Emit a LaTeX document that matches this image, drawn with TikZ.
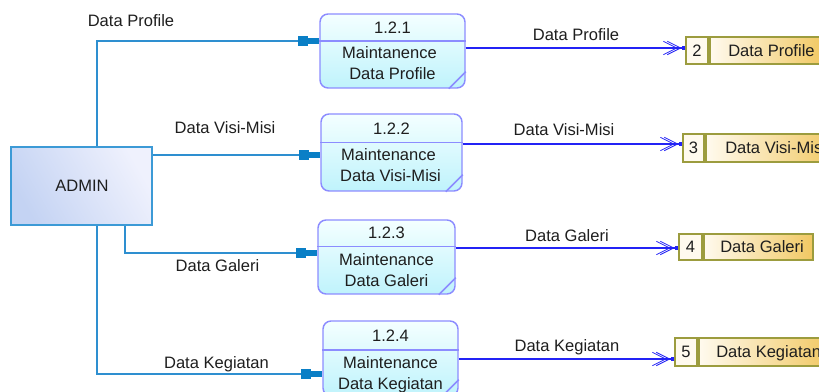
\documentclass[tikz,border=0pt]{standalone}
\usepackage{fontspec}
\setmainfont{Liberation Sans}
\usetikzlibrary{arrows.meta,calc}
\definecolor{inflow}{HTML}{2E8FD0}
\definecolor{inhead}{HTML}{0A7FC6}
\definecolor{outflow}{HTML}{2323F5}
\definecolor{procborder}{HTML}{8C8CFF}
\definecolor{proctop}{HTML}{F4FFFF}
\definecolor{procbot}{HTML}{BFF3FC}
\definecolor{admborder}{HTML}{3C9AD6}
\definecolor{admA}{HTML}{C4D3F3}
\definecolor{admB}{HTML}{EFF1FD}
\definecolor{stborder}{HTML}{9C9C3E}
\definecolor{stA}{HTML}{FFFAEE}
\definecolor{stB}{HTML}{F1C862}
\definecolor{txtc}{HTML}{1E1E1E}
\begin{document}
\begin{tikzpicture}[x=0.75pt,y=-0.75pt,
  every node/.style={font=\fontsize{12.4pt}{15pt}\selectfont, text=txtc},
  lbl/.style={inner sep=0pt, text height=8.9pt, text depth=0pt},
  adminbox/.style={draw=admborder, line width=1.6pt, inner sep=0pt,
    left color=admA, right color=admB, shading angle=120},
  procbox/.style={draw=procborder, line width=1.1pt, rounded corners=6pt, inner sep=0pt,
    top color=proctop, bottom color=procbot},
  procline/.style={draw=procborder, line width=1.1pt},
  stcell/.style={draw=stborder, line width=1.5pt, fill=stA, inner sep=0pt},
  stname/.style={draw=stborder, line width=1.5pt, inner sep=0pt, left color=stA, right color=stB},
  inf/.style={draw=inflow, line width=1.4pt, rounded corners=0pt,
    -{Rectangle[length=7.5pt,width=7.5pt,fill=inhead,color=inhead] Rectangle[length=8.25pt,width=3.9pt,fill=inhead,color=inhead]}},
  outf/.style={draw=outflow, line width=1.3pt,
    -{Straight Barb[length=10pt,width=10pt,line width=0.6pt,sep=-8pt] Straight Barb[length=10pt,width=10pt,line width=0.6pt] Square[length=2.6pt,width=3pt]}}
]
\useasboundingbox (0,0) rectangle (819,392);

% ADMIN
\node[adminbox, minimum width=105.75pt, minimum height=58.5pt] (admin) at (81.5,186) {};
\node[lbl] (admintxt) at (82,186) {ADMIN};

% processes
\node[procbox, minimum width=108.75pt, minimum height=55.5pt] (p1) at (392.5,51) {};
\node[procbox, minimum width=105.75pt, minimum height=57.75pt] (p2) at (391.5,152.5) {};
\node[procbox, minimum width=102.75pt, minimum height=55.5pt] (p3) at (386.5,257) {};
\node[procbox, minimum width=101.25pt, minimum height=56.25pt] (p4) at (390.5,358.5) {};

\coordinate (d1) at (0,41);
\coordinate (d2) at (0,142.5);
\coordinate (d3) at (0,246.5);
\coordinate (d4) at (0,350);
\foreach \p/\d in {p1/d1,p2/d2,p3/d3,p4/d4}{
  \draw[procline] (\p.west |- \d) -- (\p.east |- \d);
  \draw[procline] ($(\p.south east)+(-17,0)$) -- ($(\p.south east)+(0,-17)$);
}

\node[lbl] (p1n) at (392.5,27.5) {1.2.1};
\node[lbl] (p1a) at (389.5,53) {Maintanence};
\node[lbl] (p1b) at (392.5,74) {Data Profile};
\node[lbl] (p2n) at (391.5,128.5) {1.2.2};
\node[lbl] (p2a) at (388.5,155) {Maintenance};
\node[lbl] (p2b) at (390.5,176) {Data Visi-Misi};
\node[lbl] (p3n) at (386.5,233) {1.2.3};
\node[lbl] (p3a) at (386.5,260) {Maintenance};
\node[lbl] (p3b) at (386.5,281) {Data Galeri};
\node[lbl] (p4n) at (390.5,336) {1.2.4};
\node[lbl] (p4a) at (390.5,363) {Maintenance};
\node[lbl] (p4b) at (390.5,384) {Data Kegiatan};

% data stores
\node[stcell, minimum width=16.5pt, minimum height=20.25pt] (s2c) at (697,50.5) {};
\node[stname, minimum width=85.5pt, minimum height=20.25pt, anchor=west] (s2) at (s2c.east) {};
\node[lbl] (s2n) at (697,50.5) {2};
\node[lbl, anchor=west] (s2t) at (728,50.5) {Data Profile};

\node[stcell, minimum width=15.75pt, minimum height=21pt] (s3c) at (693.5,148) {};
\node[stname, minimum width=98pt, minimum height=21pt, anchor=west] (s3) at (s3c.east) {};
\node[lbl] (s3n) at (693.5,148) {3};
\node[lbl, anchor=west] (s3t) at (725,148) {Data Visi-Misi};

\node[stcell, minimum width=17.25pt, minimum height=19.5pt] (s4c) at (690.5,247) {};
\node[stname, minimum width=81.75pt, minimum height=19.5pt, anchor=west] (s4) at (s4c.east) {};
\node[lbl] (s4n) at (690.5,247) {4};
\node[lbl, anchor=west] (s4t) at (720,247) {Data Galeri};

\node[stcell, minimum width=16.5pt, minimum height=21pt] (s5c) at (686,352) {};
\node[stname, minimum width=99pt, minimum height=21pt, anchor=west] (s5) at (s5c.east) {};
\node[lbl] (s5n) at (686,352) {5};
\node[lbl, anchor=west] (s5t) at (716,352) {Data Kegiatan};

% input flows
\coordinate (c1) at (97,41);
\coordinate (c4) at (97,374);
\coordinate (c3) at (125,253);
\coordinate (c2) at (0,155);
\draw[inf] (admin.north -| c1) -- (c1) -- (p1.west |- c1);
\draw[inf] (admin.east |- c2) -- (p2.west |- c2);
\draw[inf] (admin.south -| c3) -- (c3) -- (p3.west |- c3);
\draw[inf] (admin.south -| c4) -- (c4) -- (p4.west |- c4);

\node[lbl] (l1) at (131,21) {Data Profile};
\node[lbl] (l2) at (225,128) {Data Visi-Misi};
\node[lbl] (l3) at (217.5,266) {Data Galeri};
\node[lbl] (l4) at (216.5,363) {Data Kegiatan};

% output flows
\coordinate (o1) at (0,48);
\coordinate (o2) at (0,144);
\coordinate (o3) at (0,248);
\coordinate (o4) at (0,359);
\draw[outf] (p1.east |- o1) -- (s2c.west |- o1);
\draw[outf] (p2.east |- o2) -- (s3c.west |- o2);
\draw[outf] (p3.east |- o3) -- (s4c.west |- o3);
\draw[outf] (p4.east |- o4) -- (s5c.west |- o4);

\node[lbl] (m1) at (576,35) {Data Profile};
\node[lbl] (m2) at (564,130) {Data Visi-Misi};
\node[lbl] (m3) at (567,236) {Data Galeri};
\node[lbl] (m4) at (567,346) {Data Kegiatan};
\end{tikzpicture}
\end{document}
